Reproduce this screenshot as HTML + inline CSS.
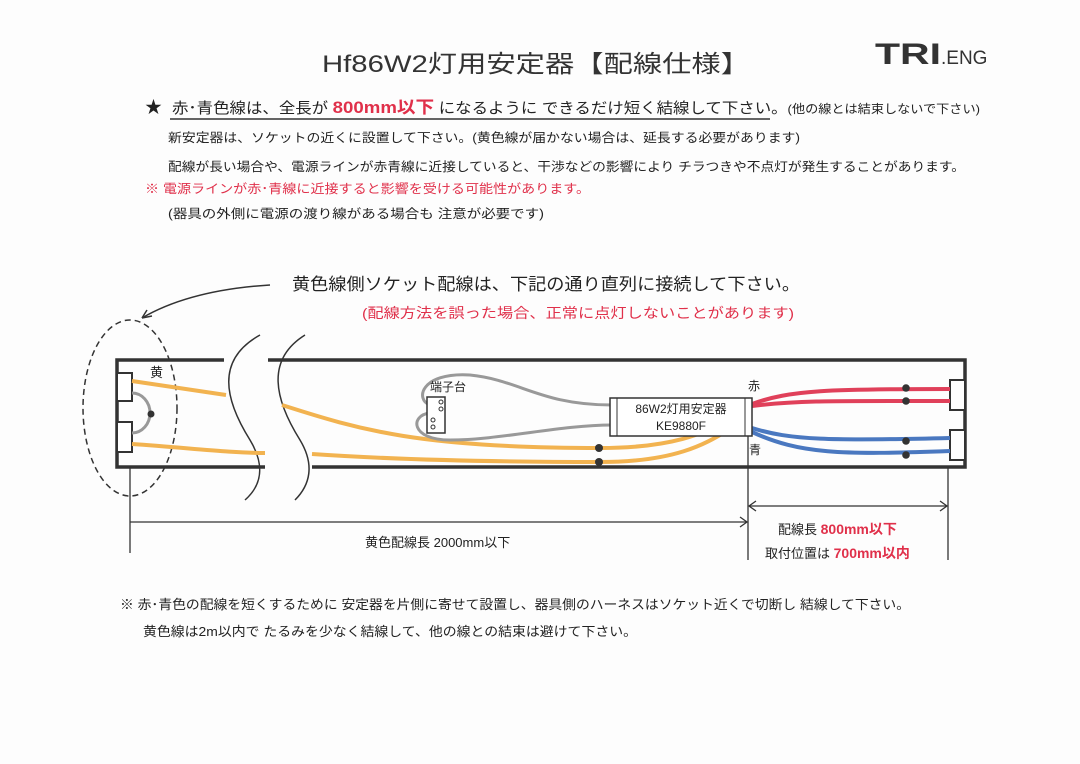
<!DOCTYPE html>
<html><head><meta charset="utf-8"><style>
body{margin:0;background:#fff;}
svg{display:block;font-family:"Liberation Sans","Noto Sans CJK JP",sans-serif;}
</style></head><body>
<svg width="1080" height="764" viewBox="0 0 1080 764">
<rect width="1080" height="764" fill="#fdfdfd"/>
<text x="322" y="72" font-size="24" textLength="428" lengthAdjust="spacingAndGlyphs" fill="#333">Hf86W2灯用安定器【配線仕様】</text>
<text x="875" y="64" font-size="30" font-weight="bold" fill="#333" textLength="66" lengthAdjust="spacingAndGlyphs">TRI</text>
<text x="941" y="64" font-size="19" fill="#333">.ENG</text>
<text x="145" y="113" font-size="17" fill="#222">★</text>
<text x="172" y="113" font-size="15" fill="#222" textLength="808" lengthAdjust="spacingAndGlyphs">赤･青色線は、全長が <tspan fill="#e0304a" font-weight="bold" font-size="17">800mm以下</tspan> になるように できるだけ短く結線して下さい。<tspan font-size="12">(他の線とは結束しないで下さい)</tspan></text>
<line x1="170" y1="119" x2="770" y2="119" stroke="#333" stroke-width="1.5"/>
<text x="168" y="142" font-size="12.5" fill="#222" textLength="632" lengthAdjust="spacingAndGlyphs">新安定器は、ソケットの近くに設置して下さい。(黄色線が届かない場合は、延長する必要があります)</text>
<text x="168" y="171" font-size="12.5" fill="#222" textLength="797" lengthAdjust="spacingAndGlyphs">配線が長い場合や、電源ラインが赤青線に近接していると、干渉などの影響により チラつきや不点灯が発生することがあります。</text>
<text x="145" y="193" font-size="12.5" fill="#e0304a" textLength="445" lengthAdjust="spacingAndGlyphs">※  電源ラインが赤･青線に近接すると影響を受ける可能性があります。</text>
<text x="168" y="218" font-size="12.5" fill="#222" textLength="376" lengthAdjust="spacingAndGlyphs">(器具の外側に電源の渡り線がある場合も 注意が必要です)</text>
<text x="292" y="290" font-size="17" fill="#222" textLength="508" lengthAdjust="spacingAndGlyphs">黄色線側ソケット配線は、下記の通り直列に接続して下さい。</text>
<text x="362" y="318" font-size="14" fill="#e0304a" textLength="432" lengthAdjust="spacingAndGlyphs">(配線方法を誤った場合、正常に点灯しないことがあります)</text>
<path d="M270 285 Q190 290 142 318" fill="none" stroke="#333" stroke-width="1.5"/>
<path d="M142 318 l10 -2 M142 318 l5 -8" stroke="#333" stroke-width="1.5"/>
<ellipse cx="130" cy="408" rx="47" ry="88" fill="none" stroke="#333" stroke-width="1.5" stroke-dasharray="6,4"/>
<g stroke="#333" stroke-width="3.5" fill="none">
<path d="M224 360 H117 V467 H265"/>
<path d="M268 360 H965 V467 H312"/>
</g>
<path d="M260 335 C215 360 225 400 250 440 C265 465 262 485 245 500" fill="none" stroke="#333" stroke-width="1.5"/>
<path d="M305 335 C265 360 275 400 300 440 C315 465 310 485 295 500" fill="none" stroke="#333" stroke-width="1.5"/>
<g fill="#fff" stroke="#333" stroke-width="2">
<rect x="117" y="373" width="15" height="28"/><rect x="117" y="422" width="15" height="30"/>
<rect x="950" y="380" width="15" height="30"/><rect x="950" y="430" width="15" height="30"/>
</g>
<path d="M132 393 A18 20 0 0 1 132 433" fill="none" stroke="#999" stroke-width="3"/>
<circle cx="151" cy="414" r="3.5" fill="#333"/>
<text x="150" y="377" font-size="13" fill="#222">黄</text>
<g stroke="#f2b350" stroke-width="4" fill="none">
<path d="M132 381 L226 395"/>
<path d="M282 405 C360 430 420 448 600 448 C700 448 720 420 748 412"/>
<path d="M132 444 C190 448 230 453 265 453"/>
<path d="M312 454 C400 460 500 462 600 462 C700 462 720 430 748 420"/>
</g>
<circle cx="599" cy="448" r="4" fill="#333"/><circle cx="599" cy="462" r="4" fill="#333"/>
<g stroke="#999" stroke-width="3" fill="none">
<path d="M612 405 C540 405 520 380 470 375 C420 372 415 400 430 405"/>
<path d="M612 425 C560 425 500 440 450 440 C410 440 410 415 430 413"/>
</g>
<rect x="427" y="397" width="18" height="36" fill="#fff" stroke="#333" stroke-width="1.5"/>
<g fill="none" stroke="#333" stroke-width="1"><circle cx="441" cy="402" r="2"/><circle cx="441" cy="409" r="2"/><circle cx="433" cy="420" r="2"/><circle cx="433" cy="427" r="2"/></g>
<text x="430" y="391" font-size="12" fill="#222">端子台</text>
<g stroke="#e0405a" stroke-width="4" fill="none">
<path d="M752 404 C790 390 830 389 950 389"/>
<path d="M752 406 C800 400 840 401 950 401"/>
</g>
<g stroke="#4a78c0" stroke-width="4" fill="none">
<path d="M752 428 C790 440 830 441 950 438"/>
<path d="M752 432 C800 454 840 455 950 451"/>
</g>
<g fill="#333"><circle cx="906" cy="388" r="3.8"/><circle cx="906" cy="401" r="3.8"/><circle cx="906" cy="441" r="3.8"/><circle cx="906" cy="455" r="3.8"/></g>
<rect x="610" y="398" width="142" height="38" fill="#fff" stroke="#333" stroke-width="1.5"/>
<line x1="617" y1="398" x2="617" y2="436" stroke="#333"/><line x1="745" y1="398" x2="745" y2="436" stroke="#333"/>
<text x="681" y="413" font-size="12" text-anchor="middle" fill="#222">86W2灯用安定器</text>
<text x="681" y="430" font-size="12" text-anchor="middle" fill="#222">KE9880F</text>
<text x="748" y="390" font-size="12" fill="#222">赤</text>
<text x="749" y="454" font-size="12" fill="#222">青</text>
<g stroke="#333" stroke-width="1.3" fill="none">
<line x1="130" y1="467" x2="130" y2="553"/>
<line x1="748" y1="436" x2="748" y2="560"/>
<line x1="948" y1="467" x2="948" y2="560"/>
<line x1="130" y1="522" x2="747" y2="522"/><path d="M740 517 L747 522 L740 527"/>
<line x1="749" y1="506" x2="947" y2="506"/><path d="M756 501 L749 506 L756 511 M940 501 L947 506 L940 511"/>
</g>
<text x="365" y="547" font-size="13" fill="#222">黄色配線長 2000mm以下</text>
<text x="778" y="534" font-size="13" fill="#222">配線長 <tspan fill="#e0304a" font-size="14" font-weight="bold">800mm以下</tspan></text>
<text x="765" y="558" font-size="13" fill="#222">取付位置は <tspan fill="#e0304a" font-size="14" font-weight="bold">700mm以内</tspan></text>
<text x="120" y="609" font-size="13" fill="#222" textLength="790" lengthAdjust="spacingAndGlyphs">※  赤･青色の配線を短くするために 安定器を片側に寄せて設置し、器具側のハーネスはソケット近くで切断し 結線して下さい。</text>
<text x="143" y="636" font-size="13" fill="#222" textLength="494" lengthAdjust="spacingAndGlyphs">黄色線は2m以内で たるみを少なく結線して、他の線との結束は避けて下さい。</text>
</svg>
</body></html>
